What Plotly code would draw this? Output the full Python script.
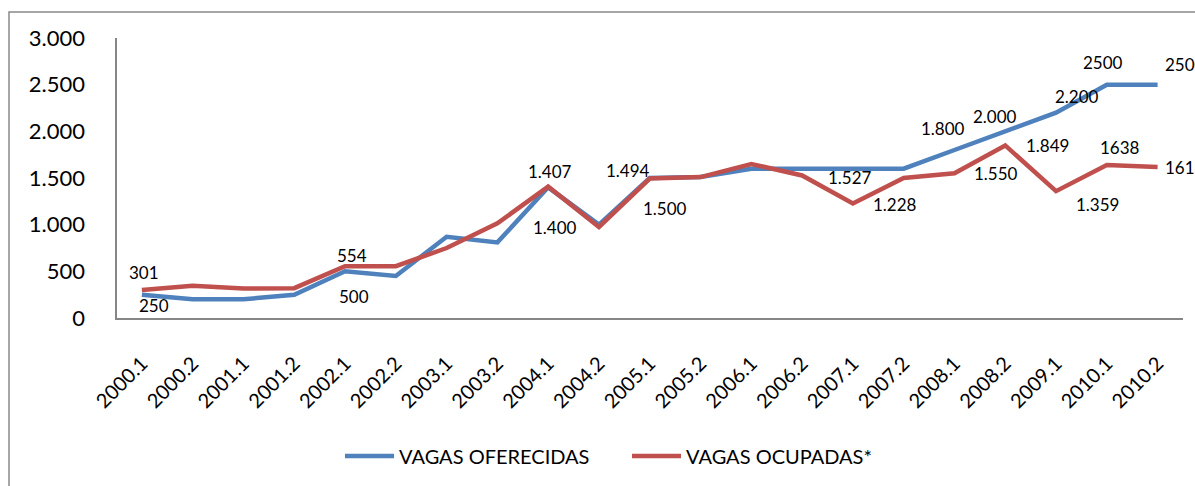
import plotly.graph_objects as go

categories = ["2000.1", "2000.2", "2001.1", "2001.2", "2002.1", "2002.2", "2003.1",
              "2003.2", "2004.1", "2004.2", "2005.1", "2005.2", "2006.1", "2006.2",
              "2007.1", "2007.2", "2008.1", "2008.2", "2009.1", "2010.1", "2010.2"]

vagas_oferecidas = [250, 200, 200, 250, 500, 450, 870, 810, 1400, 1000, 1500, 1510,
                    1600, 1600, 1600, 1600, 1800, 2000, 2200, 2500, 2500]
vagas_ocupadas = [301, 345, 315, 320, 554, 555, 750, 1015, 1407, 975, 1494, 1510,
                  1650, 1527, 1228, 1500, 1550, 1849, 1359, 1638, 1618]

y_ticks = [0, 500, 1000, 1500, 2000, 2500, 3000]
y_tick_text = ["0", "500", "1.000", "1.500", "2.000", "2.500", "3.000"]

# data labels shown on the chart: index -> text
labels_oferecidas = {0: "250", 4: "500", 8: "1.400", 10: "1.500", 16: "1.800",
                     17: "2.000", 18: "2.200", 19: "2500", 20: "2500"}
labels_ocupadas = {0: "301", 4: "554", 8: "1.407", 10: "1.494", 13: "1.527",
                   14: "1.228", 16: "1.550", 17: "1.849", 18: "1.359", 19: "1638",
                   20: "1618"}

# label offsets (px): index -> (dx, dy, xanchor)
off_oferecidas = {0: (12, -11, "center"), 4: (9, -25, "center"), 8: (7, -40, "center"),
                  10: (15, -30, "center"), 16: (-11, 22, "center"), 17: (-10, 15, "center"),
                  18: (21, 16, "center"), 19: (-4, 22, "center"), 20: (5, 20, "left")}
off_ocupadas = {0: (2, 17, "center"), 4: (7, 11, "center"), 8: (2, 15, "center"),
                10: (-22, 8, "center"), 13: (48, -2, "center"), 14: (42, -1, "center"),
                16: (42, 0, "center"), 17: (42, 0, "center"), 18: (41, -13, "center"),
                19: (13, 18, "center"), 20: (5, -1, "left")}

BLUE = "#4F81BD"
RED = "#C0504D"
AXIS = "#868686"
FONT = "Lato"
W, H = 1195, 486

fig = go.Figure()
fig.add_trace(go.Scatter(x=categories, y=vagas_oferecidas, mode="lines",
                         name="VAGAS OFERECIDAS", line=dict(color=BLUE, width=4.5),
                         legend="legend"))
fig.add_trace(go.Scatter(x=categories, y=vagas_ocupadas, mode="lines",
                         name="VAGAS OCUPADAS*", line=dict(color=RED, width=4.5),
                         legend="legend2"))

annotations = []
for labels, offs, vals in ((labels_oferecidas, off_oferecidas, vagas_oferecidas),
                           (labels_ocupadas, off_ocupadas, vagas_ocupadas)):
    for i, txt in labels.items():
        dx, dy, xa = offs[i]
        # x given as the category index on the category axis
        annotations.append(dict(x=i, y=vals[i], xref="x", yref="y",
                                text=txt, showarrow=False, xshift=dx, yshift=dy,
                                xanchor=xa, yanchor="middle",
                                font=dict(family=FONT, size=17, color="#000000")))

fig.update_layout(
    width=W, height=H,
    margin=dict(l=0, r=0, t=0, b=0, autoexpand=False),
    paper_bgcolor="white", plot_bgcolor="rgba(0,0,0,0)",
    font=dict(family=FONT, color="#000000"),
    xaxis=dict(domain=[116.5 / W, 1183 / W], type="category",
               range=[-0.5, len(categories) - 0.5], automargin=False,
               tickangle=-45, tickfont=dict(size=20), showgrid=False, zeroline=False,
               showline=True, linecolor=AXIS, linewidth=2, ticks="",
               ticklabelstandoff=24),
    yaxis=dict(domain=[1 - 318 / H, 1 - 38 / H], range=[0, 3000], tickmode="array",
               tickvals=y_ticks, ticktext=y_tick_text, tickfont=dict(size=22),
               automargin=False, showgrid=False, zeroline=False, showline=True,
               linecolor=AXIS, linewidth=2, ticks="", ticklabelstandoff=25),
    legend=dict(orientation="h", x=340 / W, xanchor="left", y=1 - 456 / H,
                yanchor="middle", font=dict(family=FONT, size=20), itemwidth=49,
                bgcolor="rgba(0,0,0,0)"),
    legend2=dict(orientation="h", x=627 / W, xanchor="left", y=1 - 456 / H,
                 yanchor="middle", font=dict(family=FONT, size=20), itemwidth=49,
                 bgcolor="rgba(0,0,0,0)"),
    annotations=annotations,
    shapes=[dict(type="rect", xref="paper", yref="paper", x0=9 / W, x1=1.05,
                 y0=-0.05, y1=1 - 12 / H, line=dict(color="#898989", width=1.5),
                 fillcolor="rgba(0,0,0,0)", layer="below")],
    showlegend=True,
)

fig.write_html("out.html", config={"displayModeBar": False},
               post_script="document.body.style.margin='0px';")
